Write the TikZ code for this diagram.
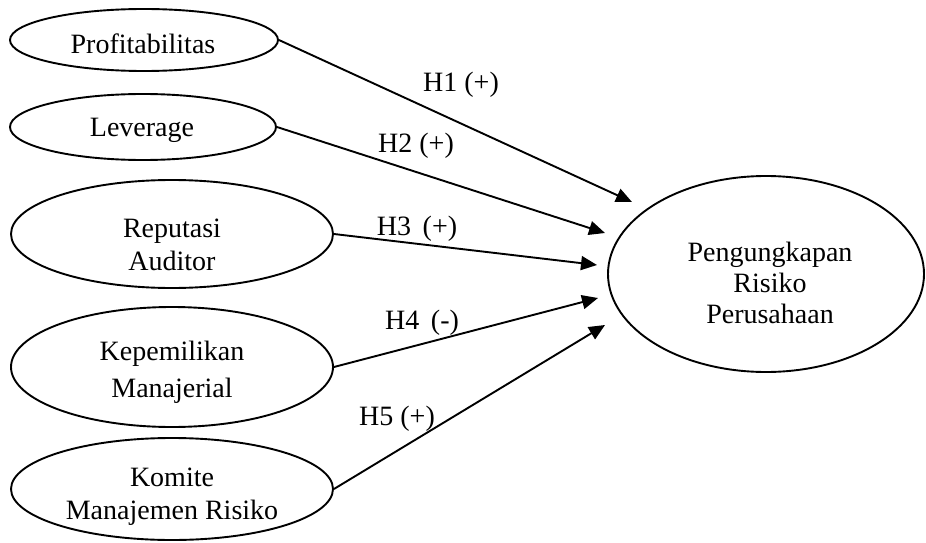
\documentclass[tikz,border=0pt]{standalone}
\usepackage{fontspec}
\setmainfont{Liberation Serif}
\usetikzlibrary{shapes.geometric,arrows.meta}
\begin{document}
\begin{tikzpicture}[x=1pt,y=-1pt,
  ell/.style={draw,ellipse,line width=1.9pt,inner sep=0pt},
  txt/.style={align=center,font=\fontsize{28}{33}\selectfont},
  hyp/.style={font=\fontsize{28}{33}\selectfont,inner sep=0pt},
  conn/.style={line width=1.9pt,-{Triangle[length=16pt,width=14pt]}}]
\useasboundingbox (0,0) rectangle (926,543);
% ellipses
\node[ell,minimum width=268pt,minimum height=62pt] (e1) at (144,40) {};
\node[ell,minimum width=266pt,minimum height=66pt] (e2) at (143,127) {};
\node[ell,minimum width=322pt,minimum height=108pt] (e3) at (172,234) {};
\node[ell,minimum width=322pt,minimum height=120pt] (e4) at (172,367) {};
\node[ell,minimum width=322pt,minimum height=102pt] (e5) at (172,489) {};
\node[ell,minimum width=316pt,minimum height=196pt] (r) at (766,274) {};
% texts
\node[txt] (t1) at (143,44) {Profitabilitas};
\node[txt] (t2) at (142,130) {Leverage};
\node[txt] (t3) at (172,245) {Reputasi\\Auditor};
\node[txt,font=\fontsize{28}{37}\selectfont] (t4) at (172,372) {Kepemilikan\\Manajerial};
\node[txt] (t5) at (172,497) {Komite\\Manajemen Risiko};
\node[txt,font=\fontsize{28}{31}\selectfont] (tr) at (770,283) {Pengungkapan\\Risiko\\Perusahaan};
% arrow ends
\coordinate (a1) at (632,202);
\coordinate (a2) at (605,233);
\coordinate (a3) at (597,265);
\coordinate (a4) at (598,298);
\coordinate (a5) at (605,325);
\draw[conn] (e1.east) -- (a1);
\draw[conn] (e2.east) -- (a2);
\draw[conn] (e3.east) -- (a3);
\draw[conn] (e4.east) -- (a4);
\draw[conn] (e5.east) -- (a5);
% labels
\node[hyp] (h1) at (461,85) {H1 (+)};
\node[hyp] (h2) at (416,146) {H2 (+)};
\node[hyp] (h3) at (417,229) {H3 \,(+)};
\node[hyp] (h4) at (422,323) {H4 \,(-)};
\node[hyp] (h5) at (397,419) {H5 (+)};
\end{tikzpicture}
\end{document}
